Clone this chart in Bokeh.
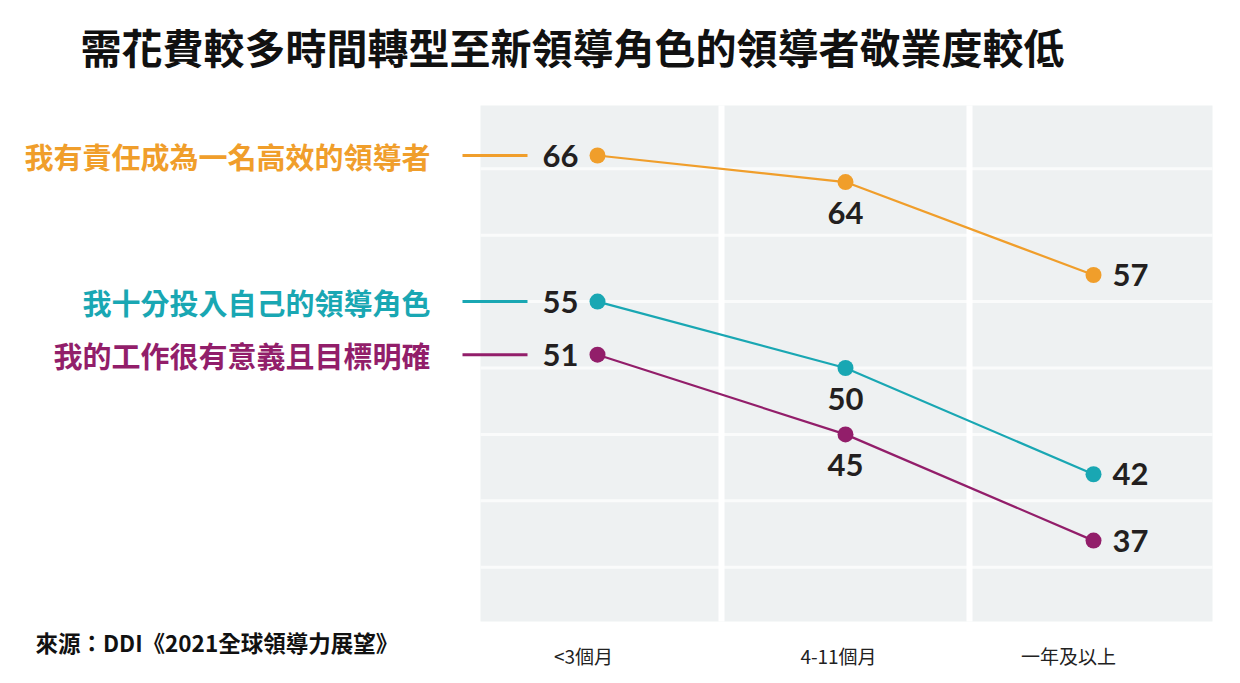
from bokeh.plotting import figure
from bokeh.models import Range1d
from bokeh.core.properties import value
from bokeh.embed import file_html
from bokeh.resources import INLINE

# ---------------- data ----------------
title_text = "需花費較多時間轉型至新領導角色的領導者敬業度較低"
source_text = "來源：DDI《2021全球領導力展望》"
categories = ["<3個月", "4-11個月", "一年及以上"]
series_names = ["我有責任成為一名高效的領導者", "我十分投入自己的領導角色", "我的工作很有意義且目標明確"]
responsible = [66, 64, 57]
committed = [55, 50, 42]
meaningful = [51, 45, 37]
grid_values = [35, 40, 45, 50, 55, 60, 65]

series_values = [responsible, committed, meaningful]
colors = ["#F09E2B", "#19A7B3", "#921E6A"]

# ---------------- layout helpers ----------------
W, H = 1224, 672
PX_PER_CAT = 248.0
X_CAT0 = 597.0          # page pixel of first category
PX_PER_UNIT = 13.28
Y_REF_PX, Y_REF_V = 155.0, 66.0
ORIGIN = 0


def xd(px):
    return (px - X_CAT0) / PX_PER_CAT


def yd(py):
    return Y_REF_V - (py - Y_REF_PX) / PX_PER_UNIT


p = figure(width=W, height=H, output_backend="svg", toolbar_location=None,
           x_axis_type=None, y_axis_type=None, min_border=0,
           x_range=Range1d(xd(ORIGIN), xd(ORIGIN + W)),
           y_range=Range1d(yd(ORIGIN + H), yd(ORIGIN)))
p.outline_line_color = None
p.grid.visible = False
p.background_fill_color = "white"
p.border_fill_color = "white"

CAT_X = list(range(len(categories)))
panel_l, panel_r = xd(480), xd(1212)
panel_t, panel_b = yd(105), yd(621)

# gray panel
p.quad(left=[panel_l], right=[panel_r], bottom=[panel_b], top=[panel_t],
       fill_color="#EEF1F2", line_color=None)
# horizontal white grid lines
p.segment(x0=[panel_l] * len(grid_values), x1=[panel_r] * len(grid_values),
          y0=grid_values, y1=grid_values, line_color="#FAFBFB", line_width=3)
# vertical separators between categories
seps = [c + 0.5 for c in CAT_X[:-1]]
hw = 3 / PX_PER_CAT
p.quad(left=[s - hw for s in seps], right=[s + hw for s in seps],
       bottom=[panel_b] * len(seps), top=[panel_t] * len(seps),
       fill_color="white", line_color=None)

num_font = value("Lato")
for i, (name, vals, col) in enumerate(zip(series_names, series_values, colors)):
    p.line(x=CAT_X, y=vals, line_color=col, line_width=2.2)
    p.scatter(x=CAT_X, y=vals, size=16, fill_color=col, line_color=None)
    # leader line and series name
    p.segment(x0=[xd(462)], x1=[xd(527)], y0=[vals[0]], y1=[vals[0]],
              line_color=col, line_width=3)
    p.text(x=[xd(430)], y=[vals[0]], text=[name], text_align="right",
           text_baseline="middle", text_color=col, text_font_size="29px",
           text_font=value("Noto Sans CJK TC"), text_font_style="bold")
    # value labels
    p.text(x=[0], y=[vals[0]], text=[str(vals[0])], x_offset=-19,
           text_align="right", text_baseline="middle", text_color="#231F20",
           text_font_size="31px", text_font=num_font, text_font_style="bold")
    p.text(x=[1], y=[vals[1]], text=[str(vals[1])], y_offset=31,
           text_align="center", text_baseline="middle", text_color="#231F20",
           text_font_size="31px", text_font=num_font, text_font_style="bold")
    p.text(x=[2], y=[vals[2]], text=[str(vals[2])], x_offset=19,
           text_align="left", text_baseline="middle", text_color="#231F20",
           text_font_size="31px", text_font=num_font, text_font_style="bold")

# category labels
tick_offsets = [-14, -7, -25]
for c, lab, off in zip(CAT_X, categories, tick_offsets):
    p.text(x=[c], y=[yd(655)], text=[lab], x_offset=off, text_align="center",
           text_baseline="middle", text_color="#222222", text_font_size="19px",
           text_font=value("Noto Sans CJK TC"))

# title
p.text(x=[xd(80)], y=[yd(45)], text=[title_text], text_align="left",
       text_baseline="middle", text_color="#111111", text_font_size="41px",
       text_font=value("Noto Sans CJK TC"), text_font_style="bold")
# source
p.text(x=[xd(35)], y=[yd(641)], text=[source_text], text_align="left",
       text_baseline="middle", text_color="#111111", text_font_size="22.5px",
       text_font=value("Noto Sans CJK TC"), text_font_style="bold")

open("out.html", "w").write(file_html(p, INLINE))
